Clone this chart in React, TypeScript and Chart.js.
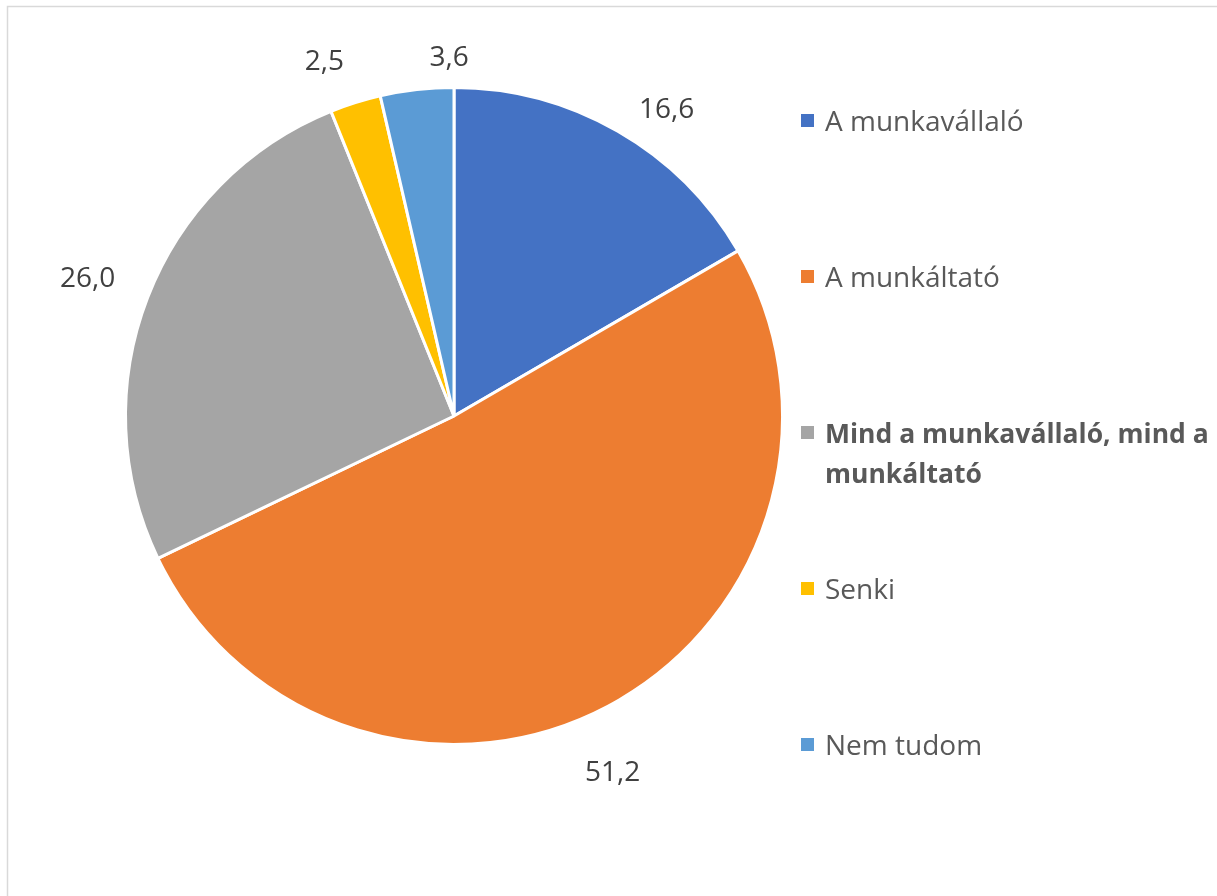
import React, { useEffect, useRef } from "react";
import { Chart, registerables } from "chart.js";

Chart.register(...registerables);

const categories = [
  "A munkavállaló",
  "A munkáltató",
  "Mind a munkavállaló, mind a munkáltató",
  "Senki",
  "Nem tudom",
];
const values = [16.6, 51.2, 26.0, 2.5, 3.6];
const valueLabels = ["16,6", "51,2", "26,0", "2,5", "3,6"];
const legendLines = [
  ["A munkavállaló"],
  ["A munkáltató"],
  ["Mind a munkavállaló, mind a", "munkáltató"],
  ["Senki"],
  ["Nem tudom"],
];
const legendBold = [false, false, true, false, false];
const colors = ["#4472C4", "#ED7D31", "#A5A5A5", "#FFC000", "#5B9BD5"];

// label placement tweaks (degrees offset from slice middle, px beyond outer radius)
const labelAngleOffset = [4.8, 3.9, -0.5, -2.6, 5.7];
const labelDistance = [45, 61, 63, 49, 31];

const FONT = '"Open Sans", "Noto Sans", sans-serif';

const decorPlugin = {
  id: "decor",
  beforeDraw(chart: any) {
    const ctx = chart.ctx;
    ctx.save();
    ctx.fillStyle = "#ffffff";
    ctx.fillRect(0, 0, chart.width, chart.height);
    ctx.strokeStyle = "#d9d9d9";
    ctx.lineWidth = 1.5;
    ctx.strokeRect(7.5, 6.5, chart.width + 20, chart.height + 20);
    ctx.restore();
  },
  afterDraw(chart: any) {
    const ctx = chart.ctx;
    const meta = chart.getDatasetMeta(0);
    ctx.save();
    // data labels
    ctx.font = `28px ${FONT}`;
    ctx.fillStyle = "#404040";
    ctx.textAlign = "center";
    ctx.textBaseline = "middle";
    meta.data.forEach((arc: any, i: number) => {
      const p = arc.getProps(["x", "y", "startAngle", "endAngle", "outerRadius"], true);
      const mid = (p.startAngle + p.endAngle) / 2 + (labelAngleOffset[i] * Math.PI) / 180;
      const r = p.outerRadius + labelDistance[i];
      const x = p.x + Math.cos(mid) * r;
      const y = p.y + Math.sin(mid) * r + 1;
      ctx.fillText(valueLabels[i], x, y);
    });
    // legend
    const lx = 801;
    const ty = 121;
    const step = 156;
    ctx.textAlign = "left";
    categories.forEach((_c, i) => {
      const y = ty + step * i;
      ctx.fillStyle = colors[i];
      ctx.fillRect(lx, y - 7, 13, 13);
      ctx.fillStyle = "#595959";
      ctx.font = `${legendBold[i] ? "bold 26.5px" : "28px"} ${FONT}`;
      legendLines[i].forEach((line, j) => {
        ctx.fillText(line, lx + 24, y + 2 + j * 40);
      });
    });
    ctx.restore();
  },
};

export default function App() {
  const ref = useRef<HTMLCanvasElement | null>(null);
  useEffect(() => {
    if (!ref.current) return;
    const chart = new Chart(ref.current, {
      type: "pie",
      data: {
        labels: categories,
        datasets: [
          {
            data: values,
            backgroundColor: colors,
            borderColor: "#ffffff",
            borderWidth: 3,
          },
        ],
      },
      options: {
        responsive: false,
        animation: false,
        layout: { padding: { left: 124, right: 433, top: 86, bottom: 150 } },
        plugins: {
          legend: { display: false },
          tooltip: { enabled: false },
          title: { display: false },
        },
      },
      plugins: [decorPlugin],
    });
    return () => chart.destroy();
  }, []);
  return (
    <div style={{ position: "fixed", left: 0, top: 0, width: 1217, height: 896, background: "#fff" }}>
      <canvas ref={ref} width={1217} height={896} style={{ width: 1217, height: 896, display: "block" }} />
    </div>
  );
}
